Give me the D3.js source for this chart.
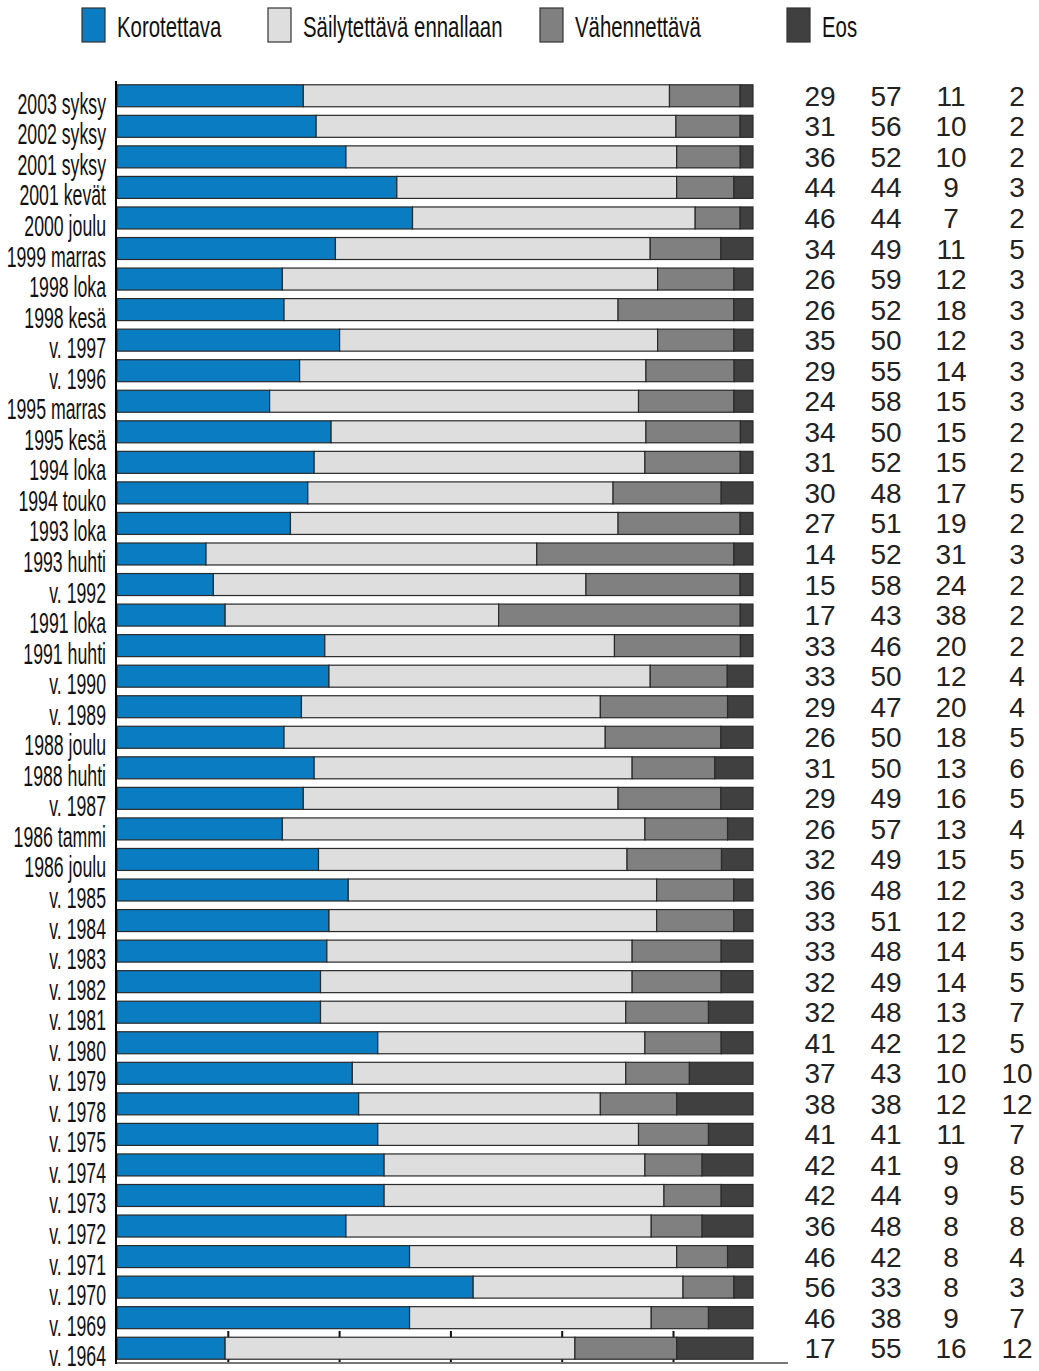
<!DOCTYPE html>
<html>
<head>
<meta charset="utf-8">
<script src="https://cdn.jsdelivr.net/npm/d3@7"></script>
<style>
  html, body { margin: 0; padding: 0; background: #fff; }
  svg { display: block; }
</style>
</head>
<body>
<svg id="chart" width="1039" height="1371"></svg>
<script>
// ---------- DATA ----------
const categories = [
  "2003 syksy","2002 syksy","2001 syksy","2001 kevät","2000 joulu","1999 marras",
  "1998 loka","1998 kesä","v. 1997","v. 1996","1995 marras","1995 kesä",
  "1994 loka","1994 touko","1993 loka","1993 huhti","v. 1992","1991 loka",
  "1991 huhti","v. 1990","v. 1989","1988 joulu","1988 huhti","v. 1987",
  "1986 tammi","1986 joulu","v. 1985","v. 1984","v. 1983","v. 1982",
  "v. 1981","v. 1980","v. 1979","v. 1978","v. 1975","v. 1974",
  "v. 1973","v. 1972","v. 1971","v. 1970","v. 1969","v. 1964"
];
const korotettava = [29,31,36,44,46,34,26,26,35,29,24,34,31,30,27,14,15,17,33,33,29,26,31,29,26,32,36,33,33,32,32,41,37,38,41,42,42,36,46,56,46,17];
const sailytettava = [57,56,52,44,44,49,59,52,50,55,58,50,52,48,51,52,58,43,46,50,47,50,50,49,57,49,48,51,48,49,48,42,43,38,41,41,44,48,42,33,38,55];
const vahennettava = [11,10,10,9,7,11,12,18,12,14,15,15,15,17,19,31,24,38,20,12,20,18,13,16,13,15,12,12,14,14,13,12,10,12,11,9,9,8,8,8,9,16];
const eos = [2,2,2,3,2,5,3,3,3,3,3,2,2,5,2,3,2,2,2,4,4,5,6,5,4,5,3,3,5,5,7,5,10,12,7,8,5,8,4,3,7,12];
const seriesNames = ["Korotettava","Säilytettävä ennallaan","Vähennettävä","Eos"];
const seriesColors = ["#0a7dc2","#dedede","#808080","#404040"];
const tickValues = [0.175, 0.35, 0.525, 0.7, 0.875];

// ---------- BUILD ----------
const seriesArrays = [korotettava, sailytettava, vahennettava, eos];
const rows = categories.map((c, i) => {
  const r = { cat: c };
  seriesNames.forEach((k, j) => r[k] = seriesArrays[j][i]);
  return r;
});

const svg = d3.select("#chart");
const x = d3.scaleLinear().domain([0, 1]).range([117, 753]);
const y = d3.scaleBand().domain(categories).range([80.5, 1363.5]).paddingInner(0.28).paddingOuter(0.14);

const stack = d3.stack().keys(seriesNames).offset(d3.stackOffsetExpand);
const stacked = stack(rows);

const condensed = "'Liberation Sans', Arial, sans-serif";

// bottom ticks (behind bars)
const axisY = 1363;
svg.append("g").selectAll("line").data(tickValues).join("line")
  .attr("x1", d => x(d)).attr("x2", d => x(d))
  .attr("y1", axisY - 32).attr("y2", axisY + 1)
  .attr("stroke", "#111").attr("stroke-width", 2);

// bars
svg.append("g").selectAll("g").data(stacked).join("g")
  .attr("fill", (d, i) => seriesColors[i])
  .selectAll("rect").data(d => d).join("rect")
  .attr("x", d => x(d[0]))
  .attr("y", d => y(d.data.cat))
  .attr("width", d => Math.max(0, x(d[1]) - x(d[0])))
  .attr("height", y.bandwidth())
  .attr("stroke", "#2a2a2a").attr("stroke-width", 1.2);

// bottom axis line
svg.append("line")
  .attr("x1", x(0) - 1).attr("x2", x(1.055))
  .attr("y1", axisY).attr("y2", axisY)
  .attr("stroke", "#777").attr("stroke-width", 2);

// left axis line
svg.append("line")
  .attr("x1", x(0) - 1).attr("x2", x(0) - 1)
  .attr("y1", 81).attr("y2", axisY + 1)
  .attr("stroke", "#000").attr("stroke-width", 2);

// category labels (condensed)
svg.append("g").selectAll("text").data(categories).join("text")
  .attr("transform", d => `translate(106,${y(d) + y.bandwidth() / 2 + 18}) scale(0.59,1)`)
  .attr("text-anchor", "end")
  .attr("font-family", condensed)
  .attr("font-size", 30)
  .attr("fill", "#111")
  .text(d => d);

// value columns
const colX = [820, 886, 951, 1017];
seriesArrays.forEach((arr, j) => {
  svg.append("g").selectAll("text").data(arr).join("text")
    .attr("x", colX[j])
    .attr("y", (d, i) => y(categories[i]) + y.bandwidth() / 2 + 10)
    .attr("text-anchor", "middle")
    .attr("font-family", "'Liberation Sans', Arial, sans-serif")
    .attr("font-size", 28)
    .attr("fill", "#222")
    .text(d => d);
});

// legend
const legendX = [82, 268, 540, 787];
const lg = svg.append("g").selectAll("g").data(seriesNames).join("g")
  .attr("transform", (d, i) => `translate(${legendX[i]},0)`);
lg.append("rect")
  .attr("x", 0).attr("y", 8).attr("width", 23).attr("height", 34)
  .attr("fill", (d, i) => seriesColors[i])
  .attr("stroke", "#333").attr("stroke-width", 1.2);
lg.append("text")
  .attr("transform", "translate(35,37) scale(0.68,1)")
  .attr("font-family", condensed)
  .attr("font-size", 30)
  .attr("fill", "#111")
  .text(d => d);
</script>
</body>
</html>
